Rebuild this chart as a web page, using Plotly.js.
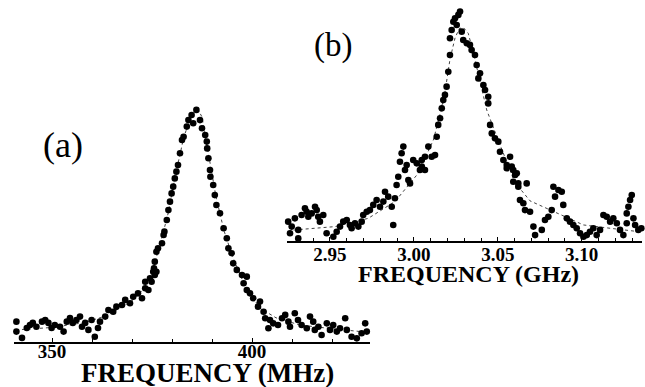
<!DOCTYPE html>
<html>
<head>
<meta charset="utf-8">
<script src="https://cdn.plot.ly/plotly-3.0.1.min.js"></script>
<style>html,body{margin:0;padding:0;background:#fff;}#chart{width:645px;height:387px;}</style>
</head>
<body>
<div id="chart"></div>
<script>
// Panel (a): frequency in MHz, signal in arbitrary units
const aFreq = [341.1,341.1,342.5,343.7,344.5,345.2,346.1,347.5,348.3,349.1,349.9,350.7,352.0,352.9,353.7,354.5,355.2,356.1,357.0,357.5,358.3,359.1,359.9,360.7,361.5,362.0,363.3,364.1,365.3,366.1,367.5,368.3,369.5,370.3,371.5,372.5,373.3,374.1,373.3,374.5,374.9,375.3,375.5,375.7,375.7,376.1,376.1,376.5,377.5,377.9,378.1,378.7,379.1,379.5,379.9,380.3,380.7,381.1,381.5,382.0,382.5,382.9,383.7,384.1,384.9,385.3,386.1,387.0,387.5,388.3,388.7,388.8,389.1,389.5,389.6,390.3,390.7,391.1,392.0,392.9,393.7,394.1,394.9,395.3,396.2,397.5,397.9,398.7,398.7,399.5,400.3,401.5,402.0,402.9,403.3,404.1,404.5,405.3,406.5,407.5,408.3,409.1,409.5,410.7,411.5,412.4,413.7,414.5,415.3,415.7,416.6,417.4,418.7,419.5,420.3,421.2,422.0,423.3,423.7,424.9,426.2,427.4,428.3,428.7];
const aSignal = [8.4,4.3,1.7,5.8,7.0,7.9,6.3,8.4,9.1,7.9,5.8,7.0,6.3,4.3,8.4,9.9,7.9,9.1,10.5,6.3,7.9,5.0,9.1,2.2,5.8,8.4,10.5,13.2,12.5,14.6,15.3,17.4,16.0,18.7,20.1,18.1,22.2,21.5,24.9,26.3,24.9,29.0,30.5,27.7,33.2,29.0,37.3,38.7,40.8,44.2,45.6,50.4,54.5,58.0,61.4,64.2,67.6,70.4,73.1,78.0,83.5,84.8,89.0,91.7,93.8,90.4,95.9,91.7,88.3,85.5,82.8,80.0,75.9,71.1,68.3,64.9,60.7,56.6,53.2,47.0,42.9,38.7,36.7,32.5,29.8,27.7,24.3,27.0,21.5,20.1,18.1,14.6,16.7,12.5,9.8,5.7,9.1,7.7,7.0,9.8,11.2,8.4,6.3,11.9,9.1,7.0,5.7,10.5,8.4,5.0,6.3,2.9,7.7,5.0,7.0,4.3,5.7,9.8,5.0,2.2,1.5,3.6,7.7,4.3];
const aFitFreq = [341,350,358,363,367,370,373,375,377,379,381,383,385,386.2,387.5,389,391,393,395,398,402,406,412,420,429];
const aFitSignal = [5,6,8,10.5,14,17,22,29,40,53,70,85,94,97,93,79,60,46,36,24,14,10,7,5.5,4];
const aTicks = [350, 400];

// Panel (b): frequency in GHz, signal in arbitrary units
const bFreq = [2.9251,2.9272,2.9262,2.9291,2.9311,2.9311,2.9331,2.9351,2.9361,2.9371,2.9391,2.9411,2.9421,2.9430,2.9440,2.9460,2.9480,2.9520,2.9540,2.9560,2.9579,2.9600,2.9619,2.9629,2.9649,2.9669,2.9689,2.9698,2.9719,2.9738,2.9758,2.9778,2.9798,2.9818,2.9828,2.9847,2.9868,2.9877,2.9887,2.9897,2.9907,2.9917,2.9927,2.9937,2.9947,2.9957,2.9967,2.9977,2.9996,3.0017,3.0036,3.0047,3.0047,3.0066,3.0066,3.0086,3.0106,3.0126,3.0136,3.0145,3.0156,3.0166,3.0175,3.0185,3.0195,3.0205,3.0215,3.0215,3.0225,3.0235,3.0245,3.0255,3.0265,3.0275,3.0285,3.0294,3.0315,3.0334,3.0344,3.0364,3.0374,3.0384,3.0394,3.0414,3.0424,3.0443,3.0443,3.0454,3.0464,3.0483,3.0503,3.0513,3.0533,3.0553,3.0553,3.0573,3.0583,3.0592,3.0592,3.0603,3.0613,3.0622,3.0622,3.0632,3.0652,3.0662,3.0672,3.0692,3.0712,3.0722,3.0762,3.0781,3.0801,3.0821,3.0831,3.0841,3.0861,3.0881,3.0890,3.0911,3.0930,3.0950,3.0970,3.0990,3.1010,3.1030,3.1049,3.1069,3.1089,3.1109,3.1129,3.1149,3.1169,3.1188,3.1209,3.1228,3.1248,3.1268,3.1268,3.1278,3.1288,3.1298,3.1308,3.1318,3.1337,3.1355];
const bSignal = [8.2,6.1,3.3,9.6,4.7,1.1,11.0,13.9,12.4,10.3,11.7,14.5,13.1,10.3,8.2,11.0,3.3,1.8,3.9,6.1,8.2,8.9,6.8,5.4,7.5,6.1,8.2,11.0,12.4,13.1,15.3,17.4,14.5,16.7,20.9,18.8,14.5,6.8,18.1,23.7,27.2,33.6,37.2,40.0,30.1,32.2,25.8,24.4,34.3,32.9,30.1,31.5,34.3,35.7,30.1,40.0,35.7,36.4,44.2,49.2,52.0,56.2,59.7,61.9,65.4,71.7,78.8,85.9,89.4,92.9,94.4,91.5,95.8,97.2,88.7,85.2,83.8,83.1,80.9,78.8,74.6,68.9,71.1,66.1,64.0,61.1,58.3,49.2,45.6,43.5,42.1,37.8,34.3,32.2,30.8,35.7,31.5,30.1,25.1,28.0,28.7,24.4,23.0,17.4,16.0,13.1,24.4,12.4,6.1,2.5,4.7,8.9,10.3,13.1,23.0,18.8,21.6,20.9,15.3,9.6,8.2,6.8,5.4,3.3,1.8,2.5,3.9,5.4,2.5,4.7,11.0,10.3,8.2,9.6,7.5,4.7,2.5,7.5,11.7,14.5,17.4,19.5,9.6,6.8,4.7,5.4];
const bFitFreq = [2.9250,2.9291,2.9530,2.9728,2.9887,3.0026,3.0116,3.0150,3.0185,3.0215,3.0245,3.0270,3.0294,3.0324,3.0360,3.0400,3.0434,3.0490,3.0553,3.0600,3.0692,3.0811,3.1010,3.1169,3.1347];
const bFitSignal = [3.8,4.7,6.1,9.6,16.7,28.7,42.8,52,63,77,86,90,90.5,88,78,66,55.5,45,34,25,17,13.1,6.8,5.4,3.9];

const serif = 'Liberation Serif';
const dotMarker = {color: '#000', size: 6.6};
const fitLine = {color: '#444', width: 1, dash: 'dot'};

const traces = [
  {x: aFitFreq, y: aFitSignal, xaxis: 'x', yaxis: 'y', mode: 'lines', line: fitLine, hoverinfo: 'skip'},
  {x: aFreq, y: aSignal, xaxis: 'x', yaxis: 'y', mode: 'markers', marker: dotMarker, cliponaxis: false},
  {x: bFitFreq, y: bFitSignal, xaxis: 'x2', yaxis: 'y2', mode: 'lines', line: fitLine, hoverinfo: 'skip'},
  {x: bFreq, y: bSignal, xaxis: 'x2', yaxis: 'y2', mode: 'markers', marker: dotMarker, cliponaxis: false}
];

function axisBase(standoff) {
  return {
    showline: true, linecolor: '#000', linewidth: 2, showgrid: false, zeroline: false,
    ticks: 'inside', ticklen: 4, tickwidth: 1, tickcolor: '#000',
    tickfont: {family: serif, size: 19, color: '#000', weight: 700},
    ticklabelstandoff: standoff
  };
}

const titleFont = (s) => ({family: serif, size: s, color: '#000', weight: 700});

const layout = {
  width: 645, height: 387,
  margin: {l: 0, r: 0, t: 0, b: 0},
  font: {family: serif, color: '#000'},
  paper_bgcolor: '#fff', plot_bgcolor: 'rgba(0,0,0,0)',
  showlegend: false,
  xaxis: Object.assign(axisBase(-9), {
    domain: [14/645, 370/645], anchor: 'y', range: [340.5, 429.5],
    tickvals: aTicks,
    minor: {dtick: 10, tick0: 350, ticks: 'inside', ticklen: 3, tickcolor: '#000', showgrid: false}
  }),
  yaxis: {domain: [45/387, 287/387], anchor: 'x', range: [0, 100], visible: false},
  xaxis2: Object.assign(axisBase(-5), {
    domain: [287/645, 642/645], anchor: 'y2', range: [2.9244, 3.1359],
    dtick: 0.05, tick0: 2.95, tickformat: '.2f',
    minor: {dtick: 0.01, tick0: 2.95, ticks: 'inside', ticklen: 3, tickcolor: '#000', showgrid: false}
  }),
  yaxis2: {domain: [146/387, 382/387], anchor: 'x2', range: [0, 100], visible: false},
  annotations: [
    {text: 'FREQUENCY (MHz)', xref: 'paper', yref: 'paper', x: 207/645, y: 1 - 373/387, xanchor: 'center', yanchor: 'middle', showarrow: false, font: titleFont(27)},
    {text: 'FREQUENCY (GHz)', xref: 'paper', yref: 'paper', x: 468/645, y: 1 - 274/387, xanchor: 'center', yanchor: 'middle', showarrow: false, font: titleFont(24)},
    {text: '(a)', xref: 'paper', yref: 'paper', x: 63/645, y: 1 - 145/387, xanchor: 'center', yanchor: 'middle', showarrow: false, font: {family: serif, size: 36, color: '#000'}},
    {text: '(b)', xref: 'paper', yref: 'paper', x: 333/645, y: 1 - 46/387, xanchor: 'center', yanchor: 'middle', showarrow: false, font: {family: serif, size: 33, color: '#000'}}
  ]
};

Plotly.newPlot('chart', traces, layout, {staticPlot: true, displayModeBar: false});
</script>
</body>
</html>
